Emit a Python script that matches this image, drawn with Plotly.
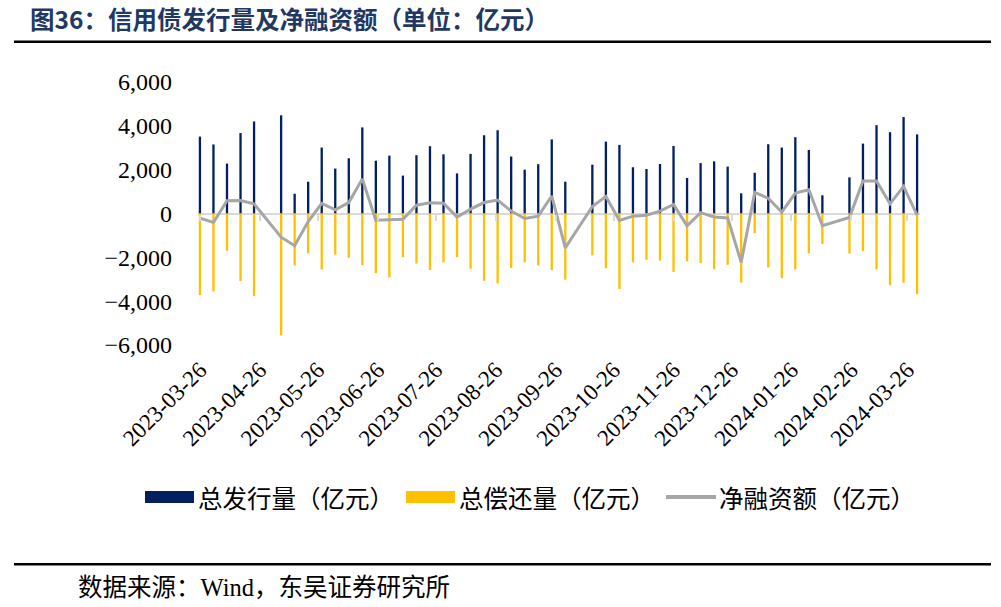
"""
图36：信用债发行量及净融资额（单位：亿元）
Weekly credit bond issuance, repayment and net financing, rebuilt with Plotly.
"""

import pandas as pd
import plotly.graph_objects as go

# weekly dates (Sunday), holiday weeks without data are left out
holiday_weeks = ["2023-04-30", "2023-10-08", "2024-02-18"]
weeks = [d for d in pd.date_range("2023-03-26", "2024-03-31", freq="7D")
         if d.strftime("%Y-%m-%d") not in holiday_weeks]

issuance = [3510, 3150, 2280, 3670, 4200, 4480, 900, 1450, 3010, 2050,
            2520, 3930, 2410, 2640, 1730, 2660, 3070, 2700, 1830, 2720,
            3570, 3800, 2600, 2000, 2250, 3380, 1450, 2230, 3280, 3130,
            2110, 2030, 2260, 3080, 1620, 2300, 2380, 2140, 920, 1860,
            3160, 3010, 3480, 2900, 830, 1650, 3190, 4030, 3710, 4400,
            3610]

repayment = [-3720, -3560, -1700, -3080, -3760, -5560, -2370, -1820, -2550, -1880,
             -2020, -2350, -2720, -2920, -1990, -2280, -2580, -2230, -1990, -2520,
             -3070, -3190, -2490, -2230, -2370, -2580, -3020, -1910, -2500, -3450,
             -2230, -2110, -2150, -2670, -2180, -2260, -2540, -2340, -3150, -900,
             -2460, -2950, -2550, -1820, -1390, -1830, -1710, -2550, -3270, -3160,
             -3680]

net_financing = [-210, -410, 580, 590, 440, -1080, -1470, -370, 460, 170,
                 500, 1580, -310, -280, -260, 380, 490, 470, -160, 200,
                 500, 610, 110, -230, -120, 800, -1570, 320, 780, -320,
                 -120, -80, 110, 410, -560, 40, -160, -200, -2230, 960,
                 700, 60, 930, 1080, -560, -180, 1480, 1480, 440, 1240,
                 -70]

month_ticks = ["2023-03-26", "2023-04-26", "2023-05-26", "2023-06-26",
               "2023-07-26", "2023-08-26", "2023-09-26", "2023-10-26",
               "2023-11-26", "2023-12-26", "2024-01-26", "2024-02-26",
               "2024-03-26"]
y_ticks = [6000, 4000, 2000, 0, -2000, -4000, -6000]

series_names = ["总发行量（亿元）", "总偿还量（亿元）", "净融资额（亿元）"]

SERIF = "Liberation Serif, Noto Sans CJK SC"
CJK = "Noto Sans CJK SC"
NAVY = "#002060"
GOLD = "#FFC000"
GREY = "#A6A6A6"
DAY_MS = 86400000

# plot area in page pixels, used to place the things outside it
PL, PR, PT, PB = 198, 920, 82, 345


def px_x(p):
    return (p - PL) / (PR - PL)


def px_y(p):
    return (PB - p) / (PB - PT)


fig = go.Figure()
fig.add_trace(go.Bar(x=weeks, y=issuance, name=series_names[0],
                     marker=dict(color=NAVY, line_width=0), width=DAY_MS * 1.2))
fig.add_trace(go.Bar(x=weeks, y=repayment, name=series_names[1],
                     marker=dict(color=GOLD, line_width=0), width=DAY_MS * 1.2))
fig.add_trace(go.Scatter(x=weeks, y=net_financing, name=series_names[2],
                         mode="lines", line=dict(color=GREY, width=3),
                         xaxis="x2"))

x_range = ["2023-03-25", "2024-04-01 12:00"]

fig.update_layout(
    width=1001, height=607,
    margin=dict(l=PL, r=1001 - PR, t=PT, b=607 - PB),
    paper_bgcolor="white", plot_bgcolor="white",
    barmode="relative",
    showlegend=False,
    title=dict(text="<b>图36：信用债发行量及净融资额（单位：亿元）</b>",
               font=dict(family=CJK, size=24.5, color="#1F3864"),
               x=30 / 1001, xanchor="left", xref="container",
               y=1 - 20 / 607, yanchor="middle", yref="container"),
    xaxis=dict(type="date", range=x_range,
               tickvals=month_ticks, ticktext=month_ticks,
               tickangle=-45, ticks="", showgrid=False, showline=False,
               zeroline=False, ticklabelstandoff=6,
               tickfont=dict(family=SERIF, size=23, color="#000000")),
    xaxis2=dict(type="date", matches="x", overlaying="x", anchor="free",
                position=0.5, side="bottom", tickvals=month_ticks,
                showticklabels=False, ticks="outside", ticklen=6, tickwidth=2,
                tickcolor="#D9D9D9", showgrid=False, showline=False,
                zeroline=False),
    yaxis=dict(range=[-6000, 6000], tickvals=y_ticks, tickformat=",",
               showgrid=False, showline=False, ticks="",
               zeroline=True, zerolinecolor="#D9D9D9", zerolinewidth=2,
               ticklabelstandoff=25,
               tickfont=dict(family=SERIF, size=24, color="#000000")),
)

# legend drawn by hand, Excel style wide swatches
fig.add_shape(type="rect", xref="paper", yref="paper",
              x0=px_x(145), x1=px_x(194), y0=px_y(503), y1=px_y(491),
              fillcolor=NAVY, line_width=0)
fig.add_shape(type="rect", xref="paper", yref="paper",
              x0=px_x(406), x1=px_x(455), y0=px_y(503), y1=px_y(491),
              fillcolor=GOLD, line_width=0)
fig.add_shape(type="line", xref="paper", yref="paper",
              x0=px_x(666), x1=px_x(716), y0=px_y(497), y1=px_y(497),
              line=dict(color=GREY, width=4))
for name, left in zip(series_names, [196, 457, 717]):
    fig.add_annotation(text=name, xref="paper", yref="paper",
                       x=px_x(left), y=px_y(497), xanchor="left", yanchor="middle",
                       showarrow=False, font=dict(family=CJK, size=24.5, color="#000000"))

# horizontal rules under the title and above the source note
for y_rule in [41.7, 564.3]:
    fig.add_shape(type="line", xref="paper", yref="paper",
                  x0=px_x(14), x1=px_x(991), y0=px_y(y_rule), y1=px_y(y_rule),
                  line=dict(color="#000000", width=2.5))

fig.add_annotation(text="数据来源：Wind，东吴证券研究所",
                   xref="paper", yref="paper", x=px_x(76), y=px_y(587),
                   xanchor="left", yanchor="middle", showarrow=False,
                   font=dict(family=SERIF, size=24.5, color="#000000"))

fig.write_html("out.html", config={"displayModeBar": False},
               post_script="document.body.style.margin='0';")
